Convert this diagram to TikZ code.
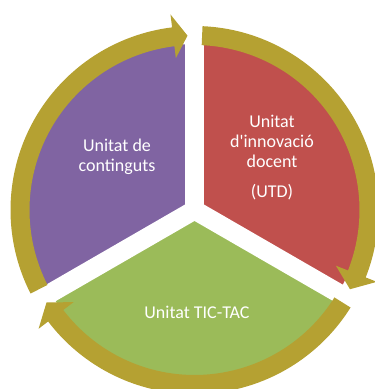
\documentclass[tikz,border=0pt]{standalone}
\usepackage{fontspec}
\setmainfont{Carlito}
\definecolor{wpurple}{RGB}{128,100,162}
\definecolor{wred}{RGB}{192,80,77}
\definecolor{wgreen}{RGB}{155,187,89}
\definecolor{ringcol}{RGB}{181,161,50}
\tikzset{
  lbl/.style={text=white, align=center, font=\fontsize{18}{20}\selectfont},
  gapline/.style={white, line width=19pt, line cap=butt},
  ringarrow/.style={fill=ringcol}
}
\begin{document}
\begin{tikzpicture}[x=1pt,y=1pt]
\useasboundingbox (0,0) rectangle (375,-389);
\clip (0,0) rectangle (375,-389);
\begin{scope}[shift={(194.5,-210)}]
  \coordinate (C) at (0,0);
  % wedges
  \fill[wpurple] (C) -- (90:166pt) arc[start angle=90, end angle=210, radius=166pt] -- cycle;
  \fill[wred] (C) -- (-30:166pt) arc[start angle=-30, end angle=90, radius=166pt] -- cycle;
  \fill[wgreen] (C) -- (210:166pt) arc[start angle=210, end angle=330, radius=166pt] -- cycle;
  % gaps
  \draw[gapline] (C) -- (90:172pt);
  \draw[gapline] (C) -- (210:172pt);
  \draw[gapline] (C) -- (330:172pt);
  \fill[white] (C) circle[radius=10pt];
  % ring arrows (clockwise)
  \fill[ringarrow] (207:184pt) arc[start angle=207, end angle=97, radius=184pt]
     -- (97:197pt) -- (92.3:174.5pt) -- (97:153pt) -- (97:165pt)
     arc[start angle=97, end angle=207, radius=165pt] -- cycle;
  \fill[ringarrow] (87.5:184pt) arc[start angle=87.5, end angle=-21.5, radius=184pt]
     -- (-21.5:196pt) -- (-27:174.5pt) -- (-21.5:152pt) -- (-21.5:165pt)
     arc[start angle=-21.5, end angle=87.5, radius=165pt] -- cycle;
  \fill[ringarrow] (-32:184pt) arc[start angle=-32, end angle=-142.7, radius=184pt]
     -- (-142.7:196pt) -- (-148:174.5pt) -- (-142.7:152pt) -- (-142.7:165pt)
     arc[start angle=-142.7, end angle=-32, radius=165pt] -- cycle;
\end{scope}
\node[lbl] (cont) at (117,-157) {Unitat de\\continguts};
\node[lbl] (utd) at (272,-158) {Unitat\\d\textquotesingle innovació\\docent\\[10pt](UTD)};
\node[lbl] (tic) at (197,-312) {Unitat TIC-TAC};
\end{tikzpicture}
\end{document}
